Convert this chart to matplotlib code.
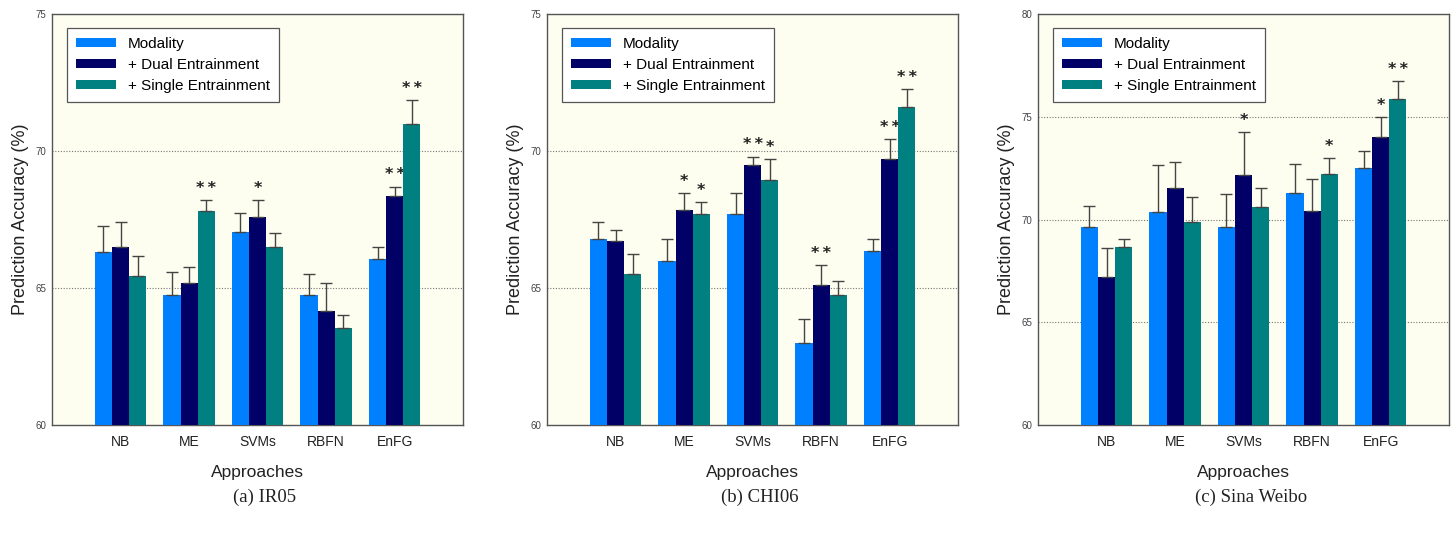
import numpy as np
from matplotlib import pyplot as plt

approaches = ['NB', 'ME', 'SVMs', 'RBFN', 'EnFG']
series = ['Modality', '+ Dual Entrainment', '+ Single Entrainment']
colores = ['#0080ff', '#000066', '#008080']

# (a) IR05
ir05_media = [
    [66.3, 64.75, 67.05, 64.75, 66.05],
    [66.5, 65.2, 67.6, 64.15, 68.35],
    [65.45, 67.8, 66.5, 63.55, 71.0],
]
ir05_error = [
    [0.95, 0.85, 0.7, 0.75, 0.45],
    [0.9, 0.55, 0.6, 1.05, 0.35],
    [0.7, 0.4, 0.5, 0.45, 0.85],
]
ir05_estrellas = [
    ['', '', '', '', ''],
    ['', '', '*', '', '**'],
    ['', '**', '', '', '**'],
]

# (b) CHI06
chi06_media = [
    [66.8, 66.0, 67.7, 63.0, 66.35],
    [66.7, 67.85, 69.5, 65.1, 69.7],
    [65.5, 67.7, 68.95, 64.75, 71.6],
]
chi06_error = [
    [0.6, 0.8, 0.75, 0.85, 0.45],
    [0.4, 0.6, 0.3, 0.75, 0.75],
    [0.75, 0.45, 0.75, 0.5, 0.65],
]
chi06_estrellas = [
    ['', '', '', '', ''],
    ['', '*', '**', '**', '**'],
    ['', '*', '*', '', '**'],
]

# (c) Sina Weibo
weibo_media = [
    [69.65, 70.35, 69.65, 71.3, 72.5],
    [67.2, 71.55, 72.15, 70.4, 74.0],
    [68.65, 69.9, 70.6, 72.2, 75.85],
]
weibo_error = [
    [1.0, 2.3, 1.6, 1.4, 0.85],
    [1.4, 1.25, 2.1, 1.55, 1.0],
    [0.4, 1.2, 0.95, 0.8, 0.9],
]
weibo_estrellas = [
    ['', '', '', '', ''],
    ['', '', '*', '', '*'],
    ['', '', '', '*', '**'],
]

paneles = [
    ('(a) IR05', ir05_media, ir05_error, ir05_estrellas, (60, 75), [60, 65, 70, 75]),
    ('(b) CHI06', chi06_media, chi06_error, chi06_estrellas, (60, 75), [60, 65, 70, 75]),
    ('(c) Sina Weibo', weibo_media, weibo_error, weibo_estrellas, (60, 80), [60, 65, 70, 75, 80]),
]

izquierdas = [0.0358, 0.3765, 0.7144]
ancho = 0.25

fig = plt.figure(figsize=(14.53, 5.42), dpi=100)
plt.rcParams['font.family'] = ['Liberation Sans', 'DejaVu Sans']

for izq, (titulo, media, error, estrellas, ylim, yticks) in zip(izquierdas, paneles):
    ax = fig.add_axes([izq, 0.216, 0.283, 0.758])
    ax.set_facecolor('#fefef0')
    x = np.arange(1, len(approaches) + 1)
    for i, (nombre, color) in enumerate(zip(series, colores)):
        pos = x + (i - 1) * ancho
        ax.bar(pos, media[i], width=ancho, color=color, label=nombre, zorder=3,
               yerr=[np.zeros(len(x)), error[i]],
               error_kw=dict(ecolor='#444444', elinewidth=1.0, capsize=4, capthick=1.0, zorder=4))
        for p, m, e, s in zip(pos, media[i], error[i], estrellas[i]):
            if s:
                ax.annotate('\u2009'.join(s), (p, m + e), xytext=(0, 3), textcoords='offset points',
                            ha='center', va='bottom', fontsize=11.5, color='#222222',
                            family='DejaVu Sans', fontweight='bold')
    ax.set_xlim(0, 6)
    ax.set_ylim(*ylim)
    ax.set_xticks(x)
    ax.set_xticklabels(approaches, fontsize=10, color='#222222')
    ax.set_yticks(yticks)
    ax.set_yticklabels([str(t) for t in yticks], fontsize=7, color='#444444')
    ax.tick_params(axis='x', length=0, pad=7)
    ax.tick_params(axis='y', length=0, pad=4)
    ax.grid(axis='y', linestyle=(0, (1, 1.5)), color='#777777', linewidth=0.8, zorder=1)
    for sp in ax.spines.values():
        sp.set_color('#555555')
        sp.set_linewidth(1.0)
    ax.set_xlabel('Approaches', fontsize=12.5, color='#222222', labelpad=12)
    ax.set_ylabel('Prediction Accuracy (%)', fontsize=13, color='#222222', labelpad=5)
    leg = ax.legend(loc='upper left', bbox_to_anchor=(0.018, 0.985), fontsize=11,
                    frameon=True, fancybox=False, handlelength=2.6, handleheight=0.5,
                    borderpad=0.6, labelspacing=0.45, handletextpad=0.8)
    leg.get_frame().set_edgecolor('#555555')
    leg.get_frame().set_linewidth(0.9)
    leg.get_frame().set_facecolor('white')
    leg.get_frame().set_alpha(1)
    fig.text(izq + 0.283 / 2 + 0.005, 0.083, titulo, ha='center', va='center',
             fontsize=13.5, family='Liberation Serif', color='#222222')

fig.savefig('out.png', dpi=100)
